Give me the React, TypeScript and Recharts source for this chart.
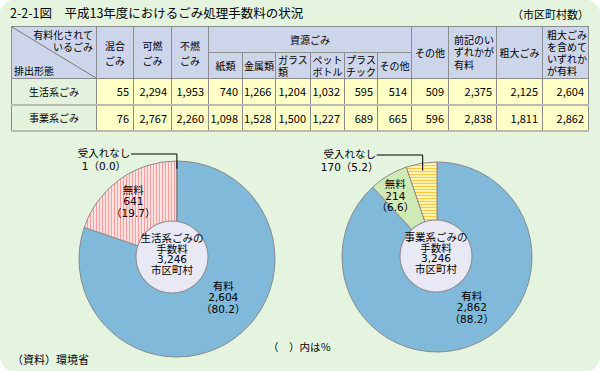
import React from "react";
import { PieChart, Pie, Cell } from "recharts";

const FONT = "'Noto Sans CJK JP', 'Noto Sans', sans-serif";
const PIE_FONT = "'DejaVu Sans', 'Noto Sans CJK JP', sans-serif";

// table values (市区町村数)
const rowLabels = ["生活系ごみ", "事業系ごみ"];
const householdRow = [55, 2294, 1953, 740, 1266, 1204, 1032, 595, 514, 509, 2375, 2125, 2604];
const businessRow = [76, 2767, 2260, 1098, 1528, 1500, 1227, 689, 665, 596, 2838, 1811, 2862];

// pie values
const feeNames = ["有料", "無料", "受入れなし"];
const householdFee = [2604, 641, 1];
const householdPct = [80.2, 19.7, 0.0];
const businessFee = [2862, 214, 170];
const businessPct = [88.2, 6.6, 5.2];
const totalMunicipalities = 3246;

const householdData = feeNames.map((name, i) => ({ name, value: householdFee[i], pct: householdPct[i] }));
const businessData = feeNames.map((name, i) => ({ name, value: businessFee[i], pct: businessPct[i] }));

const colW = [85, 37, 38, 37, 34, 33, 35, 34, 33, 34, 37, 48, 46, 46];

const BORDER = "1px solid #8c8c8c";
const hd: React.CSSProperties = {
  background: "#cdd5ea",
  border: BORDER,
  textAlign: "center",
  verticalAlign: "middle",
  padding: 0,
  lineHeight: "15px",
  fontSize: 10,
};
const dataCell: React.CSSProperties = {
  background: "#ffffc6",
  borderLeft: BORDER,
  borderRight: BORDER,
  borderBottom: "2px solid #b8bcae",
  textAlign: "right",
  paddingRight: 4,
  fontSize: 11,
};
const labelCell: React.CSSProperties = {
  background: "#e3f2dc",
  border: BORDER,
  borderBottom: "2px solid #b8bcae",
  textAlign: "center",
  fontSize: 10,
};

const fmt = (v: number) => v.toLocaleString("en-US");

const PIE = { household: { cx: 172, cy: 254, r: 98 }, business: { cx: 432, cy: 252, r: 95 } };
const CORE = { household: { cx: 167, cy: 252 }, business: { cx: 431, cy: 251 }, r: 36 };

// label placement tweaks (angle shift in degrees, radius fraction)
const householdPlaces = [{ da: 14, rf: 0.62 }, { da: 2, rf: 0.73 }];
const businessPlaces = [{ da: 13, rf: 0.65 }, { da: 4, rf: 0.77 }];

const RAD = Math.PI / 180;

const txt = { fontSize: 10.5, fill: "#000", fontFamily: PIE_FONT, textAnchor: "middle" as const, dominantBaseline: "central" as const };

const makeLabel = (places: { da: number; rf: number }[]) => (p: any) => {
  const { cx, cy, midAngle, outerRadius, index, payload } = p;
  const value = fmt(payload.value);
  const pct = payload.pct.toFixed(1);
  if (index === 2) {
    const ax = cx + outerRadius * 0.92 * Math.cos(-midAngle * RAD);
    const ay = cy + outerRadius * 0.92 * Math.sin(-midAngle * RAD);
    const ty = cy - outerRadius - 7;
    const tx = ax - 73;
    return (
      <g>
        <polyline points={`${ax},${ay} ${ax},${ty} ${ax - 46},${ty}`} fill="none" stroke="#000" strokeWidth={1} />
        <text x={tx} y={ty - 1} {...txt}>{payload.name}</text>
        <text x={tx} y={ty + 12} {...txt}>{value}（{pct}）</text>
      </g>
    );
  }
  const pl = places[index];
  const a = (midAngle + pl.da) * RAD;
  const x = cx + outerRadius * pl.rf * Math.cos(a);
  const y = cy - outerRadius * pl.rf * Math.sin(a);
  const lines = [payload.name, value, `（${pct}）`];
  return (
    <g>
      {lines.map((t, i) => (
        <text key={i} x={x} y={y - 1 + (i - 1) * 11.5} {...txt}>{t}</text>
      ))}
    </g>
  );
};

const makeCenter = (title: string) => (p: any) => {
  const lines = [title, "手数料", fmt(totalMunicipalities), "市区町村"];
  return (
    <g>
      {lines.map((t, i) => (
        <text key={i} x={p.cx} y={p.cy - 3 + (i - 1.5) * 10.8} {...txt}>{t}</text>
      ))}
    </g>
  );
};

const householdFills = ["#80b9d9", "url(#pinkStripe)", "#ffd8d8"];
const businessFills = ["#80b9d9", "#d0eab6", "url(#yellowStripe)"];

export default function App() {
  return (
    <div style={{ position: "absolute", left: 0, top: 0, width: 600, height: 371, background: "#fff", fontFamily: FONT, color: "#000" }}>
      <div style={{ position: "absolute", inset: 0, background: "#e5f4df", borderRadius: 14 }} />
      <div style={{ position: "absolute", left: 10, top: 3, fontSize: 12.5, lineHeight: "19px" }}>
        2-2-1図　平成13年度におけるごみ処理手数料の状況
      </div>
      <div style={{ position: "absolute", right: 11, top: 6, fontSize: 11, lineHeight: "17px" }}>（市区町村数）</div>

      <PieChart width={600} height={371} style={{ position: "absolute", left: 0, top: 0 }}>
        <defs>
          <pattern id="pinkStripe" width="3" height="4" patternUnits="userSpaceOnUse">
            <rect width="3" height="4" fill="#ffe2e2" />
            <rect width="1" height="4" fill="#ff9a9a" />
          </pattern>
          <pattern id="yellowStripe" width="4" height="3" patternUnits="userSpaceOnUse">
            <rect width="4" height="3" fill="#fff4b0" />
            <rect width="4" height="1" fill="#ffc840" />
          </pattern>
        </defs>
        <Pie
          data={householdData}
          dataKey="value"
          nameKey="name"
          cx={PIE.household.cx}
          cy={PIE.household.cy}
          outerRadius={PIE.household.r}
          startAngle={90}
          endAngle={-270}
          stroke="#8a8a8a"
          strokeWidth={1}
          label={makeLabel(householdPlaces)}
          labelLine={false}
          isAnimationActive={false}
        >
          {householdData.map((d, i) => (
            <Cell key={d.name} fill={householdFills[i]} />
          ))}
        </Pie>
        <Pie
          data={businessData}
          dataKey="value"
          nameKey="name"
          cx={PIE.business.cx}
          cy={PIE.business.cy}
          outerRadius={PIE.business.r}
          startAngle={90}
          endAngle={-270}
          stroke="#8a8a8a"
          strokeWidth={1}
          label={makeLabel(businessPlaces)}
          labelLine={false}
          isAnimationActive={false}
        >
          {businessData.map((d, i) => (
            <Cell key={d.name} fill={businessFills[i]} />
          ))}
        </Pie>
        {/* centre discs: plain fill, then a thin ring as outline */}
        {(["household", "business"] as const).map((k) => (
          <Pie
            key={k + "-disc"}
            data={[{ value: totalMunicipalities }]}
            dataKey="value"
            cx={CORE[k].cx}
            cy={CORE[k].cy}
            outerRadius={CORE.r}
            fill="#e8e9f5"
            stroke="none"
            label={makeCenter(k === "household" ? "生活系ごみの" : "事業系ごみの")}
            labelLine={false}
            isAnimationActive={false}
          />
        ))}
        {(["household", "business"] as const).map((k) => (
          <Pie
            key={k + "-ring"}
            data={[{ value: totalMunicipalities }]}
            dataKey="value"
            cx={CORE[k].cx}
            cy={CORE[k].cy}
            innerRadius={CORE.r - 0.5}
            outerRadius={CORE.r + 0.5}
            fill="#8a8a8a"
            stroke="none"
            isAnimationActive={false}
          />
        ))}
      </PieChart>

      <table
        style={{
          position: "absolute",
          left: 11,
          top: 26,
          borderCollapse: "collapse",
          tableLayout: "fixed",
          width: 577,
          fontFamily: FONT,
        }}
      >
        <colgroup>
          {colW.map((w, i) => (
            <col key={i} style={{ width: w }} />
          ))}
        </colgroup>
        <tbody>
          <tr style={{ height: 26 }}>
            <td rowSpan={2} style={{ ...hd, position: "relative" }}>
              <svg width="100%" height="100%" style={{ position: "absolute", left: 0, top: 0 }} preserveAspectRatio="none" viewBox="0 0 100 100">
                <line x1="0" y1="0" x2="100" y2="100" stroke="#7a7a7a" strokeWidth={1} vectorEffect="non-scaling-stroke" />
              </svg>
              <span style={{ position: "absolute", right: 3, top: 2, textAlign: "right", lineHeight: "12px" }}>
                有料化されて
                <br />
                いるごみ
              </span>
              <span style={{ position: "absolute", left: 2, bottom: 1, lineHeight: "12px" }}>排出形態</span>
            </td>
            <td rowSpan={2} style={hd}>混合<br />ごみ</td>
            <td rowSpan={2} style={hd}>可燃<br />ごみ</td>
            <td rowSpan={2} style={hd}>不燃<br />ごみ</td>
            <td colSpan={6} style={hd}>資源ごみ</td>
            <td rowSpan={2} style={hd}>その他</td>
            <td rowSpan={2} style={{ ...hd, textAlign: "left", paddingLeft: 5, lineHeight: "12.3px" }}>前記のい<br />ずれかが<br />有料</td>
            <td rowSpan={2} style={hd}>粗大ごみ</td>
            <td rowSpan={2} style={{ ...hd, textAlign: "left", paddingLeft: 4, lineHeight: "12px" }}>粗大ごみ<br />を含めて<br />いずれか<br />が有料</td>
          </tr>
          <tr style={{ height: 26 }}>
            <td style={hd}>紙類</td>
            <td style={hd}>金属類</td>
            <td style={{ ...hd, textAlign: "left", paddingLeft: 2, lineHeight: "12px" }}>ガラス<br />類</td>
            <td style={{ ...hd, lineHeight: "12px" }}>ペット<br />ボトル</td>
            <td style={{ ...hd, lineHeight: "12px" }}>プラス<br />チック</td>
            <td style={hd}>その他</td>
          </tr>
          {[householdRow, businessRow].map((row, r) => (
            <tr key={r} style={{ height: 26 }}>
              <td style={labelCell}>{rowLabels[r]}</td>
              {row.map((v, i) => (
                <td key={i} style={dataCell}>{fmt(v)}</td>
              ))}
            </tr>
          ))}
        </tbody>
      </table>

      <div style={{ position: "absolute", left: 268, top: 339, fontSize: 10.5, lineHeight: "16px" }}>（　）内は％</div>
      <div style={{ position: "absolute", left: 12, top: 351, fontSize: 11, lineHeight: "16px" }}>（資料）環境省</div>
    </div>
  );
}
